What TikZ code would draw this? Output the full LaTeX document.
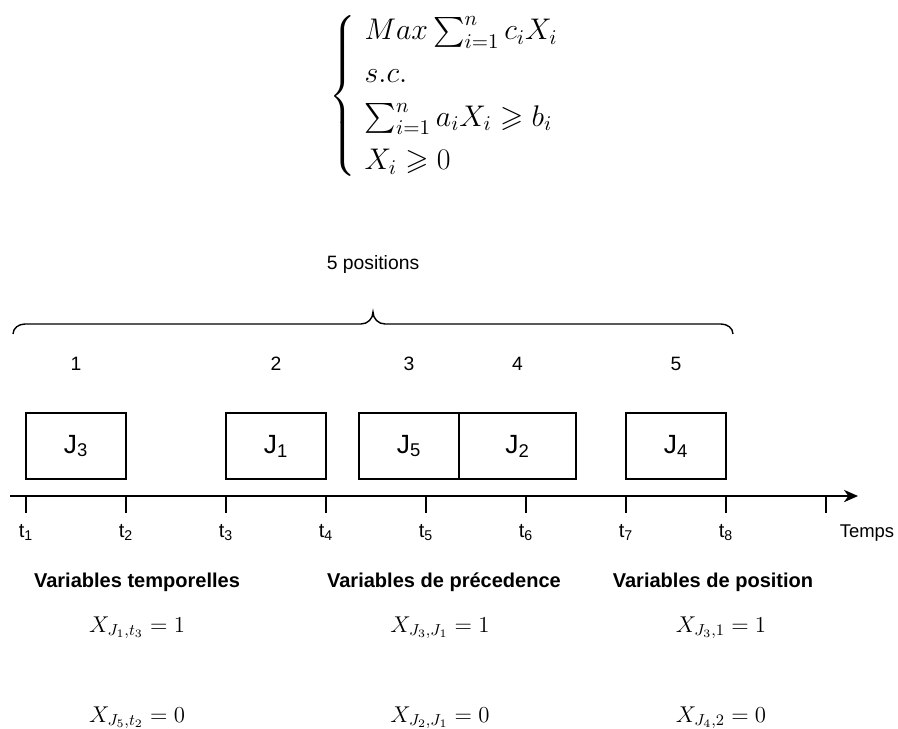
\RequirePackage{fix-cm}
\documentclass[tikz,border=0pt]{standalone}
\usepackage{amsmath,amssymb}
\usepackage[no-math]{fontspec}
\setmainfont{Liberation Sans}
\usetikzlibrary{arrows.meta,positioning}

\begin{document}
\begin{tikzpicture}[x=0.02cm, y=-0.02cm,
    jobbox/.style={draw, line width=0.8pt, minimum height=1.32cm, inner sep=0pt, outer sep=0pt, font=\fontsize{15}{18}\selectfont},
    poslabel/.style={font=\fontsize{11}{13}\selectfont},
    ticklabel/.style={anchor=base, font=\fontsize{11.5}{13}\selectfont},
    header/.style={anchor=base, font=\fontsize{11.4}{13}\selectfont\bfseries},
    varline/.style={anchor=base, font=\fontsize{13}{16}\selectfont},
    axisline/.style={line width=1pt, -{Stealth[length=8pt,width=7pt,inset=2.5pt]}},
    axtick/.style={line width=1pt}]
    \useasboundingbox (0,0) rectangle (898,728);

    % linear program
    \node[anchor=west, inner sep=0pt, font=\fontsize{17}{19}\selectfont] (lp) at (329,96) {%
        \renewcommand{\arraystretch}{1.3}\delimiterfactor=850 \delimitershortfall=11pt
        $\left\{\begin{array}{l}
            Max\sum_{i=1}^{n} c_iX_i\\
            s.c.\\
            \sum_{i=1}^{n} a_iX_i \geqslant b_i\\
            X_i \geqslant 0
        \end{array}\right.$};

    % positions
    \node[anchor=base, poslabel] (npos) at (373,269) {5 positions};
    \draw[line width=0.8pt] (13,334) to[out=90,in=180] (25,324) -- (361,324)
        to[out=0,in=-90] (373,312) to[out=-90,in=180] (385,324) -- (721,324)
        to[out=0,in=90] (733,334);

    % jobs
    \node[jobbox, minimum width=2cm] (j3) at (76,446) {J\textsubscript{3}};
    \node[jobbox, minimum width=2cm] (j1) at (276,446) {J\textsubscript{1}};
    \node[jobbox, minimum width=2cm] (j5) at (409,446) {J\textsubscript{5}};
    \node[jobbox, minimum width=2.34cm, right=0pt of j5] (j2) {J\textsubscript{2}};
    \node[jobbox, minimum width=2cm] (j4) at (676,446) {J\textsubscript{4}};

    \node[poslabel, above=0.73cm of j3] (p1) {1};
    \node[poslabel, above=0.73cm of j1] (p2) {2};
    \node[poslabel, above=0.73cm of j5] (p3) {3};
    \node[poslabel, above=0.73cm of j2] (p4) {4};
    \node[poslabel, above=0.73cm of j4] (p5) {5};

    % time axis
    \coordinate (axstart) at (10,496);
    \coordinate (axend) at (858,496);
    \draw[axisline] (axstart) -- (axend);
    \foreach \i in {0,...,8}
        \draw[axtick] ({26+100*\i},496) -- ++(0,17);
    \foreach \i in {1,...,8}
        \node[ticklabel] (t\i) at ({26+100*(\i-1)},537) {t\textsubscript{\i}};
    \node[ticklabel, font=\fontsize{10.5}{12}\selectfont] (temps) at (867,537) {Temps};

    % variables
    \node[header] (htemp) at (137,587) {Variables temporelles};
    \node[header] (hprec) at (444,587) {Variables de précedence};
    \node[header] (hpos) at (713,587) {Variables de position};

    \node[varline] (v11) at (137,632) {$X_{J_1,t_3} = 1$};
    \node[varline] (v12) at (440,632) {$X_{J_3,J_1} = 1$};
    \node[varline] (v13) at (721,632) {$X_{J_3,1} = 1$};
    \node[varline] (v21) at (137,722) {$X_{J_5,t_2} = 0$};
    \node[varline] (v22) at (440,722) {$X_{J_2,J_1} = 0$};
    \node[varline] (v23) at (721,722) {$X_{J_4,2} = 0$};
\end{tikzpicture}
\end{document}
